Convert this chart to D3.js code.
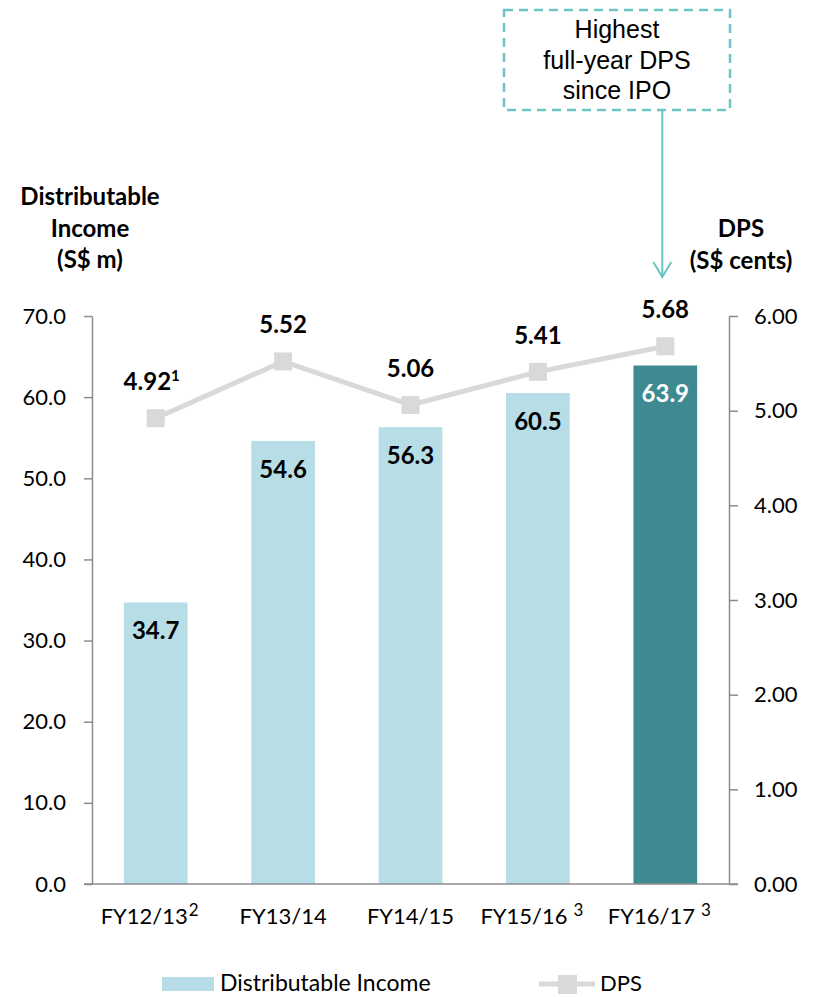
<!DOCTYPE html>
<html>
<head>
<meta charset="utf-8">
<script src="https://cdn.jsdelivr.net/npm/d3@7"></script>
<style>
  html, body { margin: 0; padding: 0; background: #fff; }
  svg { display: block; }
</style>
</head>
<body>
<svg id="chart" width="815" height="997"></svg>
<script>
// Fiscal years and their footnote markers
const categories = ["FY12/13", "FY13/14", "FY14/15", "FY15/16", "FY16/17"];
const categoryNotes = ["2", "", "", "3", "3"];
// Distributable income, S$ million
const income = [34.7, 54.6, 56.3, 60.5, 63.9];
// Distribution per unit, S$ cents
const dps = [4.92, 5.52, 5.06, 5.41, 5.68];
const dpsNotes = ["1", "", "", "", ""];
// Axis ticks
const incomeTicks = [0, 10, 20, 30, 40, 50, 60, 70];
const dpsTicks = [0, 1, 2, 3, 4, 5, 6];

const svg = d3.select("#chart");
const calibri = "Lato, 'Open Sans', sans-serif";
const arial = "'Liberation Sans', Arial, sans-serif";

const plot = { left: 92, right: 729, top: 316, bottom: 884 };

const x = d3.scaleBand()
  .domain(categories)
  .range([plot.left, plot.right])
  .paddingInner(0.5)
  .paddingOuter(0.25);

const yL = d3.scaleLinear().domain([0, 70]).range([plot.bottom, plot.top]);
const yR = d3.scaleLinear().domain([0, 6]).range([plot.bottom, plot.top]);

const axisColor = "#8c8c8c";

// Left axis
const gL = svg.append("g")
  .attr("transform", `translate(${plot.left},0)`)
  .call(d3.axisLeft(yL).tickValues(incomeTicks).tickFormat(d3.format(".1f"))
    .tickSize(8).tickSizeOuter(0).tickPadding(18));
// Right axis
const gR = svg.append("g")
  .attr("transform", `translate(${plot.right},0)`)
  .call(d3.axisRight(yR).tickValues(dpsTicks).tickFormat(d3.format(".2f"))
    .tickSize(9).tickSizeOuter(0).tickPadding(16));

[gL, gR].forEach(g => {
  g.selectAll("path.domain").attr("stroke", axisColor).attr("stroke-width", 1.5);
  g.selectAll(".tick line").attr("stroke", axisColor).attr("stroke-width", 1.5);
  g.selectAll(".tick text")
    .attr("font-family", calibri)
    .attr("font-size", 22)
    .attr("fill", "#000");
});

// Bars
svg.append("g").selectAll("rect")
  .data(categories)
  .join("rect")
  .attr("x", d => x(d))
  .attr("width", x.bandwidth())
  .attr("y", (d, i) => yL(income[i]))
  .attr("height", (d, i) => yL(0) - yL(income[i]))
  .attr("fill", (d, i) => i === categories.length - 1 ? "#3d8b91" : "#b7dde7");

// Category baseline
svg.append("line")
  .attr("x1", plot.left - 8).attr("x2", plot.right + 9)
  .attr("y1", plot.bottom).attr("y2", plot.bottom)
  .attr("stroke", axisColor).attr("stroke-width", 1.5);

// Bar value labels
svg.append("g").selectAll("text")
  .data(categories)
  .join("text")
  .attr("x", d => x(d) + x.bandwidth() / 2)
  .attr("y", (d, i) => yL(income[i]) + 37)
  .attr("text-anchor", "middle")
  .attr("font-family", calibri)
  .attr("font-weight", "bold")
  .attr("font-size", 24)
  .attr("fill", (d, i) => i === categories.length - 1 ? "#fff" : "#000")
  .text((d, i) => income[i].toFixed(1));

// DPS line
const cx = d => x(d) + x.bandwidth() / 2;
const line = d3.line()
  .x((d, i) => cx(categories[i]))
  .y(d => yR(d));
svg.append("path")
  .datum(dps)
  .attr("d", line)
  .attr("fill", "none")
  .attr("stroke", "#d9d9d9")
  .attr("stroke-width", 5);

const m = 18;
svg.append("g").selectAll("rect")
  .data(dps)
  .join("rect")
  .attr("x", (d, i) => cx(categories[i]) - m / 2)
  .attr("y", d => yR(d) - m / 2)
  .attr("width", m).attr("height", m)
  .attr("fill", "#d9d9d9");

// DPS value labels
const dpsLabels = svg.append("g").selectAll("text")
  .data(dps)
  .join("text")
  .attr("x", (d, i) => cx(categories[i]) - (dpsNotes[i] ? 4 : 0))
  .attr("y", d => yR(d) - 28)
  .attr("text-anchor", "middle")
  .attr("font-family", calibri)
  .attr("font-weight", "bold")
  .attr("font-size", 24)
  .attr("fill", "#000");
dpsLabels.append("tspan").text(d => d.toFixed(2));
dpsLabels.filter((d, i) => dpsNotes[i])
  .append("tspan")
  .attr("font-size", 15)
  .attr("dy", -9)
  .text((d, i) => dpsNotes[dps.indexOf(d)]);

// Category labels
const catLabels = svg.append("g").selectAll("text")
  .data(categories)
  .join("text")
  .attr("x", (d, i) => cx(d) + (categoryNotes[i] ? -6 : 0))
  .attr("y", 924)
  .attr("text-anchor", "middle")
  .attr("font-family", calibri)
  .attr("font-size", 22)
  .attr("fill", "#000");
catLabels.append("tspan").text(d => d);
catLabels.filter((d, i) => categoryNotes[i])
  .append("tspan")
  .attr("font-size", 17)
  .attr("dy", -8)
  .attr("dx", (d, i) => categories.indexOf(d) === 0 ? 1 : 6)
  .text(d => categoryNotes[categories.indexOf(d)]);

// Axis titles
const titleL = ["Distributable", "Income", "(S$ m)"];
svg.append("g").selectAll("text")
  .data(titleL)
  .join("text")
  .attr("x", 90)
  .attr("y", (d, i) => 205 + i * 31.5)
  .attr("text-anchor", "middle")
  .attr("font-family", calibri)
  .attr("font-weight", "bold")
  .attr("font-size", 24)
  .text(d => d);

const titleR = ["DPS", "(S$ cents)"];
svg.append("g").selectAll("text")
  .data(titleR)
  .join("text")
  .attr("x", 741)
  .attr("y", (d, i) => 237 + i * 32)
  .attr("text-anchor", "middle")
  .attr("font-family", calibri)
  .attr("font-weight", "bold")
  .attr("font-size", 24)
  .text(d => d);

// Callout box with arrow to the latest DPS
const teal = "#6ec3c6";
svg.append("rect")
  .attr("x", 504).attr("y", 10)
  .attr("width", 226).attr("height", 100)
  .attr("fill", "#fff")
  .attr("stroke", teal)
  .attr("stroke-width", 2.5)
  .attr("stroke-dasharray", "9,6");
const callout = ["Highest", "full-year DPS", "since IPO"];
svg.append("g").selectAll("text")
  .data(callout)
  .join("text")
  .attr("x", 617)
  .attr("y", (d, i) => 38 + i * 30.5)
  .attr("text-anchor", "middle")
  .attr("font-family", arial)
  .attr("font-size", 25)
  .attr("fill", "#000")
  .text(d => d);

const ax = cx(categories[4]) - 3;
svg.append("line")
  .attr("x1", ax).attr("x2", ax)
  .attr("y1", 110).attr("y2", 277)
  .attr("stroke", teal).attr("stroke-width", 2);
svg.append("path")
  .attr("d", `M${ax - 9},${262} L${ax},${277} L${ax + 9},${262}`)
  .attr("fill", "none")
  .attr("stroke", teal).attr("stroke-width", 2);

// Legend
const lg = svg.append("g");
lg.append("rect")
  .attr("x", 162).attr("y", 977).attr("width", 52).attr("height", 14)
  .attr("fill", "#b7dde7");
lg.append("text")
  .attr("x", 220).attr("y", 991)
  .attr("font-family", calibri).attr("font-size", 23)
  .text("Distributable Income");
lg.append("line")
  .attr("x1", 539).attr("x2", 595).attr("y1", 984).attr("y2", 984)
  .attr("stroke", "#d9d9d9").attr("stroke-width", 5);
lg.append("rect")
  .attr("x", 558).attr("y", 975).attr("width", 19).attr("height", 19)
  .attr("fill", "#d9d9d9");
lg.append("text")
  .attr("x", 600).attr("y", 991)
  .attr("font-family", calibri).attr("font-size", 22)
  .text("DPS");
</script>
</body>
</html>
